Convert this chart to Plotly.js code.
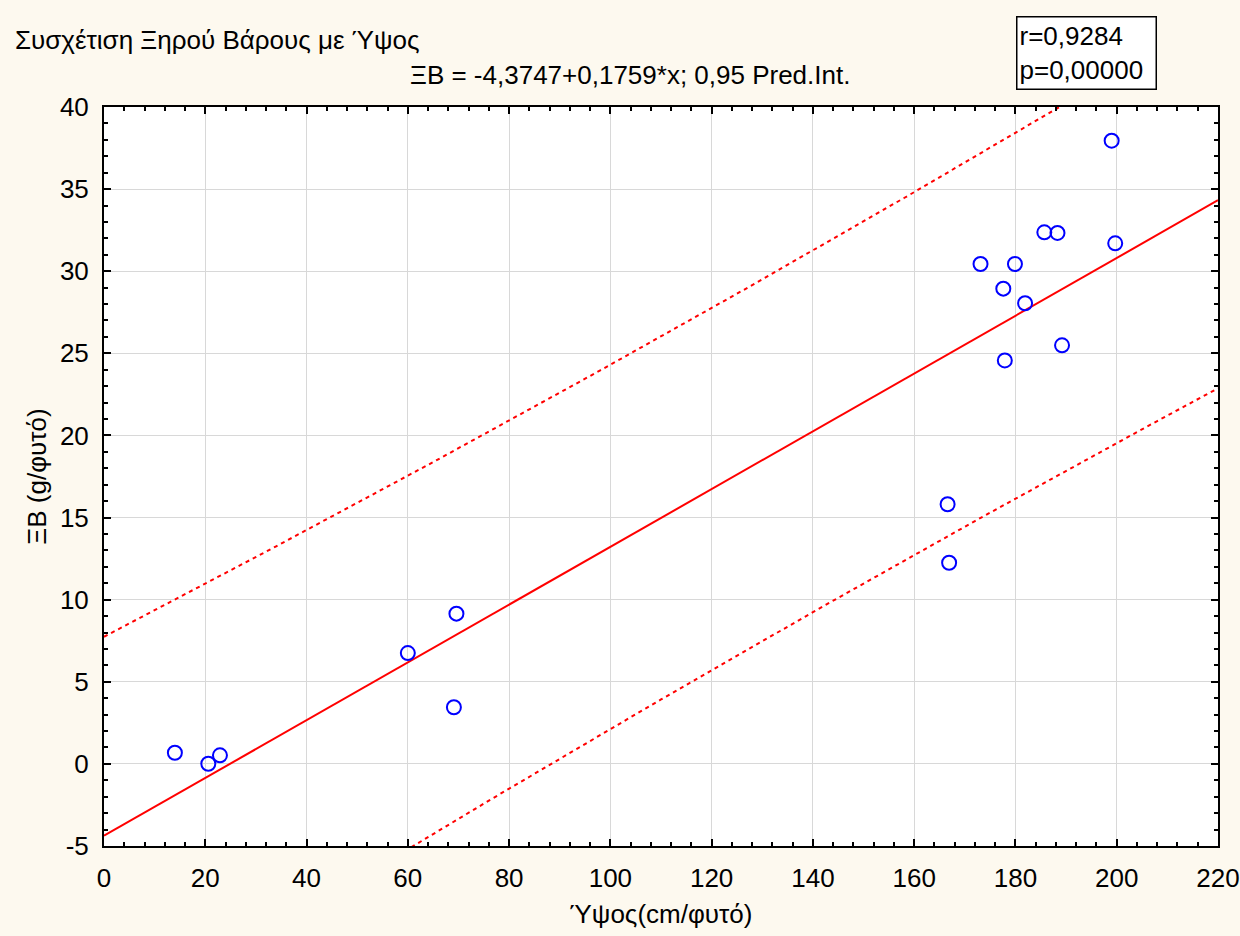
<!DOCTYPE html>
<html>
<head>
<meta charset="utf-8">
<script src="https://cdn.plot.ly/plotly-3.0.1.min.js"></script>
<style>
  html, body { margin: 0; padding: 0; background: #fdf9ef; }
  #chart { width: 1240px; height: 936px; }
</style>
</head>
<body>
<div id="chart"></div>
<script>
// Height (cm per plant) and dry weight (g per plant) of each sample
const heightCm = [14.0, 20.6, 22.9, 60.0, 69.1, 69.6, 166.6, 166.9, 173.1, 177.6,
                  177.9, 179.9, 181.9, 185.7, 188.3, 189.2, 199.0, 199.7];
const dryWeight = [0.68, 0.01, 0.52, 6.75, 3.45, 9.15, 15.81, 12.25, 30.44, 28.94,
                   24.57, 30.44, 28.05, 32.37, 32.33, 25.49, 37.95, 31.70];

// Fitted regression line ΞΒ = a + b*x
const intercept = -4.3747;
const slope = 0.1759;
const confLevel = 0.95;
const tCrit = 2.1199; // Student t, 0.975 quantile, df = n - 2 = 16
const rValue = '0,9284';
const pValue = '0,00000';

// Axis ticks
const xTickVals = [0, 20, 40, 60, 80, 100, 120, 140, 160, 180, 200, 220];
const xTickText = ['0', '20', '40', '60', '80', '100', '120', '140', '160', '180', '200', '220'];
const yTickVals = [-5, 0, 5, 10, 15, 20, 25, 30, 35, 40];
const yTickText = ['-5', '0', '5', '10', '15', '20', '25', '30', '35', '40'];

// Prediction interval from the residuals around the fitted line
const n = heightCm.length;
const xMean = heightCm.reduce((s, v) => s + v, 0) / n;
const sxx = heightCm.reduce((s, v) => s + (v - xMean) ** 2, 0);
const sse = heightCm.reduce((s, v, i) => s + (dryWeight[i] - (intercept + slope * v)) ** 2, 0);
const sErr = Math.sqrt(sse / (n - 2));

const gridX = [];
for (let x = 0; x <= 220; x += 2) gridX.push(x);
const fitY = gridX.map(x => intercept + slope * x);
const halfWidth = gridX.map(x => tCrit * sErr * Math.sqrt(1 + 1 / n + (x - xMean) ** 2 / sxx));
const upperY = fitY.map((y, i) => y + halfWidth[i]);
const lowerY = fitY.map((y, i) => y - halfWidth[i]);

const FONT = 'Liberation Sans, Arial, sans-serif';
const FS = 26;
const RED = '#ff0000';

const traces = [
  {
    x: gridX, y: upperY, mode: 'lines', type: 'scatter',
    line: { color: RED, width: 2, dash: '4px,4px' }, hoverinfo: 'skip'
  },
  {
    x: gridX, y: lowerY, mode: 'lines', type: 'scatter',
    line: { color: RED, width: 2, dash: '4px,4px' }, hoverinfo: 'skip'
  },
  {
    x: gridX, y: fitY, mode: 'lines', type: 'scatter',
    line: { color: RED, width: 2 }, hoverinfo: 'skip'
  },
  {
    x: heightCm, y: dryWeight, mode: 'markers', type: 'scatter',
    marker: { symbol: 'circle-open', size: 14, color: '#0000ff', line: { width: 2, color: '#0000ff' } }
  }
];

const axisCommon = {
  showline: true, linecolor: '#000000', linewidth: 2, mirror: 'ticks',
  ticks: 'inside', ticklen: 7, tickwidth: 2, tickcolor: '#000000',
  showgrid: true, gridcolor: '#d8d8d8', gridwidth: 1,
  zeroline: false, tickmode: 'array',
  tickfont: { family: FONT, size: FS, color: '#000000' },
  ticklabelstandoff: 8,
  fixedrange: true
};

const layout = {
  width: 1240, height: 936,
  margin: { l: 104, r: 22, t: 107, b: 90 },
  paper_bgcolor: '#fdf9ef',
  plot_bgcolor: '#ffffff',
  showlegend: false,
  font: { family: FONT, color: '#000000' },
  title: {
    text: 'Συσχέτιση Ξηρού Βάρους με Ύψος',
    x: 15 / 1240, xanchor: 'left',
    y: 1 - 40 / 936, yanchor: 'middle',
    font: { family: FONT, size: FS, color: '#000000' }
  },
  xaxis: Object.assign({}, axisCommon, {
    range: [0, 220],
    tickvals: xTickVals, ticktext: xTickText,
    minor: { dtick: 4, tick0: 0, ticks: 'inside', ticklen: 4, tickwidth: 2, tickcolor: '#000000', showgrid: false },
    title: { text: 'Ύψος(cm/φυτό)', standoff: 13, font: { family: FONT, size: FS, color: '#000000' } }
  }),
  yaxis: Object.assign({}, axisCommon, {
    range: [-5, 40],
    tickvals: yTickVals, ticktext: yTickText,
    minor: { dtick: 1, tick0: 0, ticks: 'inside', ticklen: 4, tickwidth: 2, tickcolor: '#000000', showgrid: false },
    title: { text: 'ΞΒ (g/φυτό)', standoff: 6, font: { family: FONT, size: FS, color: '#000000' } }
  }),
  annotations: [
    {
      text: 'ΞΒ = ' + intercept.toFixed(4).replace('.', ',') + '+' + slope.toFixed(4).replace('.', ',') +
            '*x; ' + confLevel.toFixed(2).replace('.', ',') + ' Pred.Int.',
      xref: 'paper', yref: 'paper',
      x: (630 - 104) / 1114, y: (846 - 75) / 739,
      xanchor: 'center', yanchor: 'middle', showarrow: false,
      font: { family: FONT, size: FS, color: '#000000' }
    },
    {
      text: 'r=' + rValue + '<br>p=' + pValue,
      xref: 'paper', yref: 'paper',
      x: (1016 - 104) / 1114, y: (846 - 16) / 739,
      xanchor: 'left', yanchor: 'top', align: 'left', showarrow: false,
      bgcolor: '#ffffff', bordercolor: '#000000', borderwidth: 1.5, borderpad: 2,
      width: 134, height: 67,
      font: { family: FONT, size: FS, color: '#000000' }
    }
  ]
};

Plotly.newPlot('chart', traces, layout, { staticPlot: true, displayModeBar: false });
</script>
</body>
</html>
